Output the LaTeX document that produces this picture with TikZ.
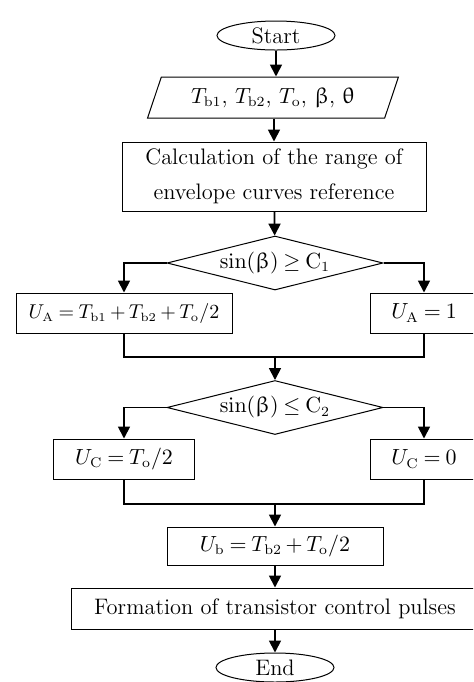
\documentclass[tikz,border=0pt]{standalone}
\usepackage{amsmath}
\usepackage{amssymb}
\usepackage{upgreek}
\usepackage{tikz}
\usetikzlibrary{arrows.meta, shapes.geometric}
\DeclareMathSizes{11.2}{11.2}{7}{5.6}
\DeclareMathSizes{10.2}{10.2}{6.4}{5.1}
\newcommand{\flowfont}{\fontsize{11.2}{17.5}\selectfont
  \medmuskip=3mu\relax\thickmuskip=4mu\relax}
\newcommand{\widefont}{\fontsize{10.2}{12}\selectfont
  \medmuskip=3mu\relax\thickmuskip=4mu\relax}

\begin{document}
\begin{tikzpicture}[x=0.5pt, y=-0.5pt, >={Triangle[length=6pt, width=6pt]},
    font=\flowfont,
    box/.style={draw, line width=0.5pt, inner sep=0pt, align=center},
    term/.style={box, ellipse, minimum width=59pt, minimum height=14.5pt},
    io/.style={box, trapezium, trapezium left angle=63, trapezium right angle=117,
      trapezium stretches=true, minimum width=125.5pt, minimum height=20.5pt},
    test/.style={box, diamond, aspect=4, minimum width=108pt, minimum height=27pt},
    flow/.style={->, line width=0.9pt},
    mergeline/.style={line width=0.9pt}]
  % page frame, right edge cuts the side boxes
  \useasboundingbox (0,0) rectangle (473,682);
  \clip (0,0) rectangle (473,682);
  % Nodes (coordinates in pixels of the sheet)
  \node[term] (start) at (276,35.5) {Start};
  \node[io] (input) at (273,97.5)
    {$T_{\mathrm{b1}}$, $T_{\mathrm{b2}}$, $T_{\mathrm{o}}$, $\upbeta$, $\uptheta$};
  \node[box, minimum width=152pt, minimum height=34.5pt] (calc) at (274,176.5)
    {Calculation of the range of\\envelope curves reference};
  \node[test] (testA) at (275,263) {$\sin(\upbeta) \geq \mathrm{C}_1$};
  \node[box, minimum width=108pt, minimum height=20pt, font=\widefont] (uaL) at (124,313)
    {$U_{\mathrm{A}} = T_{\mathrm{b1}} + T_{\mathrm{b2}} + T_{\mathrm{o}}/2$};
  \node[box, minimum width=54pt, minimum height=20pt] (uaR) at (424,313)
    {$U_{\mathrm{A}} = 1$};
  \coordinate (mergeA) at (275,357);
  \node[test] (testC) at (275,407.5) {$\sin(\upbeta) \leq \mathrm{C}_2$};
  \node[box, minimum width=70.5pt, minimum height=20pt] (ucL) at (124,459)
    {$U_{\mathrm{C}} = T_{\mathrm{o}}/2$};
  \node[box, minimum width=54pt, minimum height=20pt] (ucR) at (424,459)
    {$U_{\mathrm{C}} = 0$};
  \coordinate (mergeC) at (275,504);
  \node[box, minimum width=108pt, minimum height=19pt] (ub) at (275,546)
    {$U_{\mathrm{b}} = T_{\mathrm{b2}} + T_{\mathrm{o}}/2$};
  \node[box, minimum width=204pt, minimum height=20.5pt] (pulses) at (275,608.5)
    {Formation of transistor control pulses};
  \node[term] (stop) at (275,667.5) {End};
  % Main line
  \draw[flow] (start) -- (start |- input.north);
  \draw[flow] (input.south -| calc) -- (calc);
  \draw[flow] (calc) -- (testA);
  % first test
  \draw[flow] (testA.west) -| (uaL.north);
  \draw[flow] (testA.east) -| (uaR.north);
  \draw[mergeline] (uaL.south) |- (mergeA) -| (uaR.south);
  \draw[flow] (mergeA) -- (testC);
  % second test
  \draw[flow] (testC.west) -| (ucL.north);
  \draw[flow] (testC.east) -| (ucR.north);
  \draw[mergeline] (ucL.south) |- (mergeC) -| (ucR.south);
  \draw[flow] (mergeC) -- (ub);
  \draw[flow] (ub) -- (pulses);
  \draw[flow] (pulses) -- (stop);
\end{tikzpicture}
\end{document}
